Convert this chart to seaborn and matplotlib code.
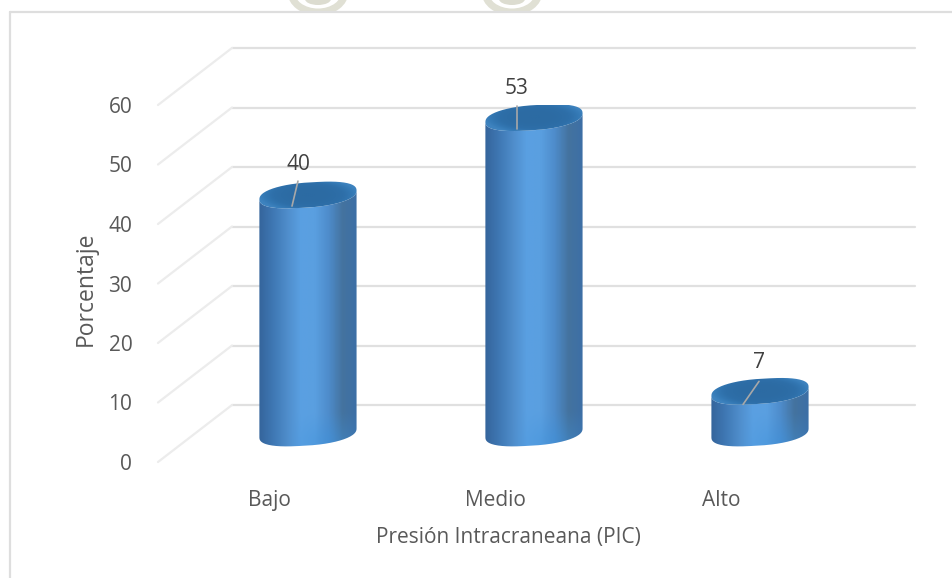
import numpy as np
import pandas as pd
import matplotlib
matplotlib.use("Agg")
import matplotlib.pyplot as plt
from matplotlib.colors import LinearSegmentedColormap
from matplotlib.patches import Ellipse, PathPatch, Rectangle
from matplotlib.path import Path
from matplotlib.transforms import Affine2D
import seaborn as sns

categories = ["Bajo", "Medio", "Alto"]
percentages = [40, 53, 7]
y_ticks = [0, 10, 20, 30, 40, 50, 60]

sns.set_theme(style="white")
plt.rcParams["font.family"] = ["Open Sans", "DejaVu Sans"]

W, H = 952, 578
fig = plt.figure(figsize=(W / 100, H / 100), dpi=100, facecolor="white")
ax = fig.add_axes([158 / W, (H - 462) / H, 683 / W, 357 / H])

GRID = "#e0e0e0"
SIDE = "#ececec"
TEXT = "#595959"

# Depth offsets in pixels: the wall sits behind the tick plane, the bars in between.
wall_shift = Affine2D().translate(74, 57)
bar_shift = Affine2D().translate(39, 29)
wall_tf = ax.transData + wall_shift
bar_tf = ax.transData + bar_shift

df = pd.DataFrame({"nivel": categories, "pct": percentages})
sns.barplot(data=df, x="nivel", y="pct", width=0.43, color="#5b9bd5", ax=ax,
            saturation=1, zorder=3)

ax.set_xlim(-0.491, 2.531)
ax.set_ylim(0, 60)
xlim, ylim = ax.get_xlim(), ax.get_ylim()

# Back wall gridlines and the receding lines on the side wall.
fig.canvas.draw()
for v in y_ticks:
    ax.plot(xlim, [v, v], color=GRID, lw=1.6, transform=wall_tf, clip_on=False, zorder=1)
    x0, y0 = ax.transData.transform((xlim[0], v))
    ax.plot([x0, x0 + 74], [y0, y0 + 57], color=SIDE, lw=1.6,
            transform=None, clip_on=False, zorder=1)

body_cmap = LinearSegmentedColormap.from_list(
    "body", ["#35659c", "#3f78b4", "#4f8dcb", "#5aa0e2", "#5a9fe0", "#4e8ccb", "#44739f", "#3d6fa6"])
top_cmap = LinearSegmentedColormap.from_list("top", ["#2c6ba3", "#2e6fa9", "#3479b5", "#3e83bf"])

EL_B = 2.1   # half height of the cylinder caps, in data units
EL_S = 0.75  # tilt of the caps, in data units
EL_P = 0.85  # exponent below 1 squares the cap outline off a little


def cap_points(cx, hw, level, t):
    c, s = np.cos(t), np.sin(t)
    xs = np.sign(c) * np.abs(c) ** EL_P
    ys = np.sign(s) * np.abs(s) ** EL_P
    return np.c_[cx + hw * xs, level + EL_B * ys + EL_S * c]


for patch in list(ax.patches):
    x, w, h = patch.get_x(), patch.get_width(), patch.get_height()
    cx, hw = x + w / 2, w / 2
    patch.set_visible(False)

    # Body of the cylinder: shaded sideways, with a brighter glow at the foot.
    lower = cap_points(cx, hw, 0, np.linspace(np.pi, 2 * np.pi, 80))
    upper = cap_points(cx, hw, h, np.linspace(0, -np.pi, 80))
    outline = np.r_[lower, upper, lower[:1]]
    clip = PathPatch(Path(outline), transform=bar_tf, fc="none", ec="none")
    ax.add_patch(clip)

    u = np.linspace(0, 1, 120)
    vv = np.linspace(0, 1, 80)
    U, V = np.meshgrid(u, vv)
    rgb = body_cmap(U)[..., :3]
    ext_bottom, ext_top = -EL_B - EL_S - 0.5, h + EL_B + EL_S + 0.5
    level = ext_top - (ext_top - ext_bottom) * V
    glow = np.clip(1 - (level + 1.2) / 4.5, 0, 1) * np.clip(1 - np.abs(U - 0.72) / 0.45, 0, 1)
    rgb = rgb * (1 - 0.5 * glow[..., None]) + np.array([0.24, 0.57, 0.86]) * 0.5 * glow[..., None]
    body = ax.imshow(rgb, extent=[x, x + w, ext_bottom, ext_top], aspect="auto",
                     transform=bar_tf, zorder=3, interpolation="bilinear")
    body.set_clip_path(clip)

    # Top cap: darker in the middle, lighter at the rim.
    cap_path = cap_points(cx, hw, h, np.linspace(0, 2 * np.pi, 160))
    cap_clip = PathPatch(Path(cap_path), transform=bar_tf, fc="none", ec="none")
    ax.add_patch(cap_clip)
    g = np.linspace(-1.05, 1.05, 90)
    GX, GY = np.meshgrid(g, g)
    cap_img = top_cmap(np.clip(np.hypot(GX, GY) ** 3, 0, 1))[..., :3]
    cap_h = EL_B + EL_S
    cap = ax.imshow(cap_img, extent=[x - 0.02, x + w + 0.02, h - cap_h - 0.1, h + cap_h + 0.1],
                    aspect="auto", transform=bar_tf, zorder=4, interpolation="bilinear")
    cap.set_clip_path(cap_clip)

# Value labels with their leader lines; offsets are in points from the cap centre.
label_offsets = [(-7.2, 22), (-12.2, 21), (-0.7, 20.5)]
leader_starts = [(-7.2, 10), (-12.2, 8.6), (-0.7, 7.2)]
leader_ends = [(-11.5, -8), (-12.2, -8), (-12.2, -9.4)]
for_pts = 72 / fig.dpi
for i, v in enumerate(percentages):
    center = bar_tf.transform((i, v))
    sx, sy = center + np.array(leader_starts[i]) / for_pts
    ex, ey = center + np.array(leader_ends[i]) / for_pts
    ax.plot([sx, ex], [sy, ey], color="#a8a8a8", lw=1.2, transform=None, clip_on=False, zorder=6)
    ax.annotate(str(v), xy=(center[0], center[1]), xycoords="figure pixels",
                xytext=label_offsets[i], textcoords="offset points",
                ha="center", va="center", fontsize=15, color="#404040",
                annotation_clip=False, zorder=7)

ax.set_xlim(xlim)
ax.set_ylim(ylim)
ax.set_yticks(y_ticks)
ax.tick_params(axis="y", length=0, pad=18.5, labelsize=15, labelcolor=TEXT)
ax.tick_params(axis="x", length=0, pad=20, labelsize=15, labelcolor=TEXT)
ax.set_xlabel("Presión Intracraneana (PIC)", fontsize=15, color=TEXT)
ax.set_ylabel("Porcentaje", fontsize=16.5, color=TEXT)
ax.xaxis.set_label_coords((508.5 - 158) / 683, -(527 - 462) / 357)
ax.yaxis.set_label_coords((98 - 158) / 683, (462 - 289) / 357)
ax.patch.set_alpha(0)
sns.despine(ax=ax, left=True, bottom=True)

# Chart frame: only the top and left edges fall inside the figure.
fig.add_artist(plt.Line2D([10 / W, 10 / W], [0, (H - 12) / H], color="#dedede", lw=1.6))
fig.add_artist(plt.Line2D([10 / W, 1], [(H - 12) / H, (H - 12) / H], color="#dedede", lw=1.6))

# Page watermark showing above the frame: two faint rings cut off by the top edge.
strip = Rectangle((0, H - 11), W, 11, transform=None, fc="none", ec="none")
fig.add_artist(strip)
for cx in (318, 512):
    ring = Ellipse((cx, H + 8), 54, 40, transform=None, fc="none", ec="#e0e0d4", lw=5)
    blob = Ellipse((cx, H + 1), 26, 12, transform=None, fc="#dcdcd0", ec="none")
    for art in (ring, blob):
        fig.add_artist(art)
        art.set_clip_path(strip)

fig.savefig("out.png", dpi=100, facecolor="white")
